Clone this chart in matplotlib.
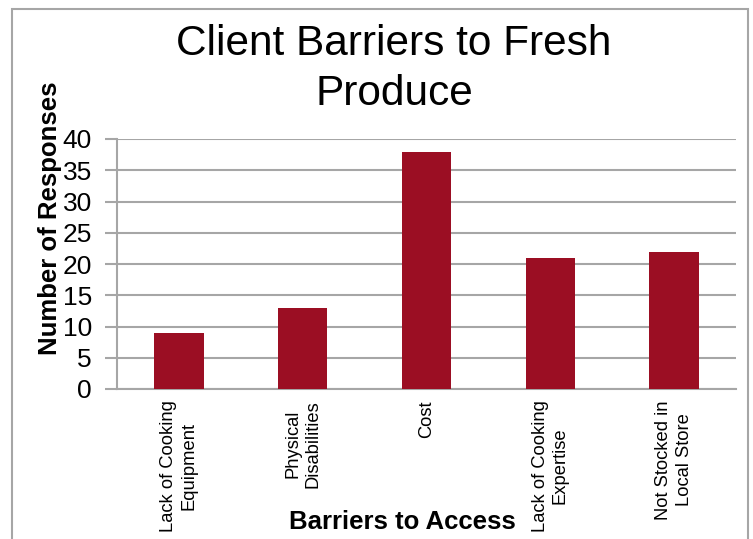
import matplotlib.pyplot as plt
from matplotlib.patches import Rectangle

plt.rcParams['font.family'] = ['Liberation Sans', 'DejaVu Sans']

# data
categories = ["Lack of Cooking\nEquipment", "Physical\nDisabilities", "Cost",
              "Lack of Cooking\nExpertise", "Not Stocked in\nLocal Store"]
responses = [9, 13, 38, 21, 22]

bar_color = "#9B0E23"
grid_color = "#A6A6A6"

fig = plt.figure(figsize=(7.53, 5.39), dpi=100)
ax = fig.add_axes([117 / 753, 1 - 389 / 539, (736 - 117) / 753, (389 - 139) / 539])

x = range(len(categories))
ax.bar(x, responses, width=0.4, color=bar_color, zorder=3)

ax.set_xlim(-0.5, len(categories) - 0.5)
ax.set_ylim(0, 40)
ax.set_yticks(range(0, 41, 5))
ax.yaxis.grid(True, color=grid_color, linewidth=1.5, zorder=0)

ax.set_xticks(list(x))
ax.set_xticklabels(categories, rotation=90, fontsize=13.2, va="top", linespacing=1.25)
ax.tick_params(axis="x", length=0, pad=8)
ax.tick_params(axis="y", length=9, width=1.5, color=grid_color, labelsize=19, pad=9)

for side in ["top", "right"]:
    ax.spines[side].set_visible(False)
ax.spines["left"].set_color(grid_color)
ax.spines["left"].set_linewidth(1.5)
ax.spines["bottom"].set_color(grid_color)
ax.spines["bottom"].set_linewidth(1.5)

fig.text(50 / 753, 1 - 218 / 539, "Number of Responses", rotation=90, ha="center",
         va="center", fontsize=18.5, fontweight="bold")
fig.text(402 / 753, 1 - 522 / 539, "Barriers to Access", ha="center", va="center",
         fontsize=18.5, fontweight="bold")

fig.text(394 / 753, 1 - 69 / 539, "Client Barriers to Fresh\nProduce", ha="center",
         va="center", fontsize=30.5, linespacing=1.3)

# outer chart border
fig.patches.append(Rectangle((12 / 753, -0.1), (748 - 12) / 753, 1.1 - 9 / 539,
                             transform=fig.transFigure, fill=False,
                             edgecolor=grid_color, linewidth=1.5))

fig.savefig("out.png", dpi=100)
